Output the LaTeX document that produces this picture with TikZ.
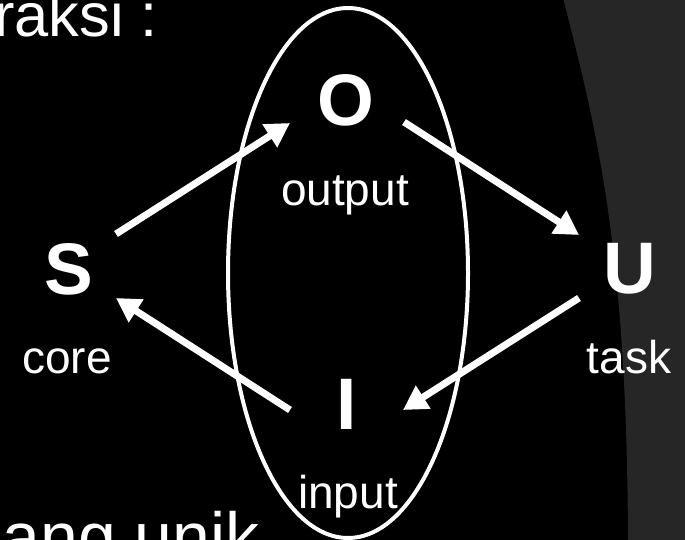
\documentclass[tikz,border=0pt]{standalone}
\usepackage{fontspec}
\setmainfont{Liberation Sans}
\usetikzlibrary{arrows.meta,shapes.geometric}
\begin{document}
\begin{tikzpicture}[x=1pt,y=-1pt,
  txt/.style={text=white,inner sep=0pt,font=\fontsize{46}{50}\selectfont},
  body/.style={text=white,inner sep=0pt,font=\fontsize{61.4}{66}\selectfont},
  big/.style={text=white,inner sep=0pt,font=\fontsize{73}{76}\selectfont\bfseries},
  flow/.style={draw=white,line width=7pt,-{Triangle[length=24pt,width=26pt]}}]
\useasboundingbox (0,0) rectangle (685,540);
\fill[black] (0,0) rectangle (685,540);
\fill[black!85!white] (563,-2) .. controls (600,140) and (627,260) .. (628,542) -- (690,542) -- (690,-2) -- cycle;
\node[draw=white,line width=4pt,ellipse,minimum width=240pt,minimum height=530pt,inner sep=0pt] (E) at (348,273) {};
\node[body,anchor=base east] (t1) at (158,37) {raksi :};
\node[body,anchor=base east,font=\fontsize{68}{72}\selectfont] (t2) at (260,560) {ang unik};
\node[big,anchor=base] (S) at (69,294) {S};
\node[big,anchor=base] (O) at (346,126) {O};
\node[big,anchor=base] (U) at (630,293) {U};
\node[big,anchor=base] (I) at (347,429) {I};
\node[txt,anchor=base] (core) at (67,373) {core};
\node[txt,anchor=base] (output) at (345,205) {output};
\node[txt,anchor=base] (task) at (629,373) {task};
\node[txt,anchor=base] (input) at (348,508) {input};
\coordinate (a1) at (116,234);
\coordinate (b1) at (290,123);
\coordinate (a2) at (404,122);
\coordinate (b2) at (579,235);
\coordinate (a3) at (579,298);
\coordinate (b3) at (403,410);
\coordinate (a4) at (290,410);
\coordinate (b4) at (116,298);
\draw[flow] (a1) -- (b1);
\draw[flow] (a2) -- (b2);
\draw[flow] (a3) -- (b3);
\draw[flow] (a4) -- (b4);
\end{tikzpicture}
\end{document}
